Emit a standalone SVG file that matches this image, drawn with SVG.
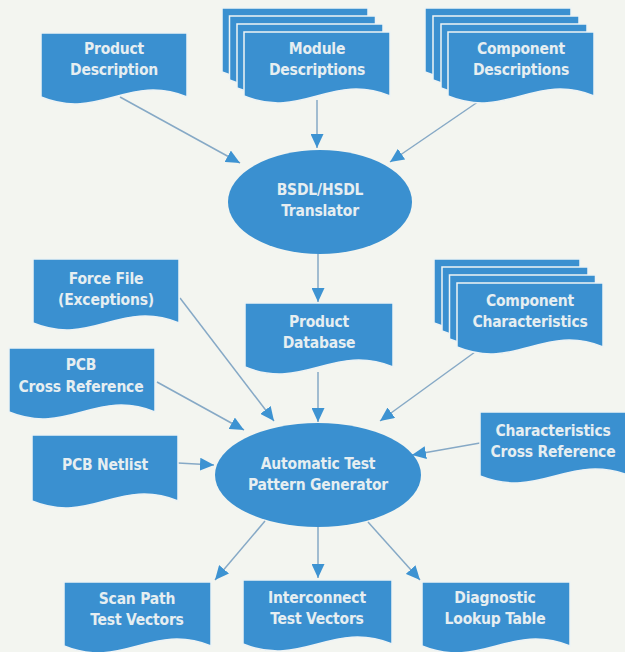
<svg xmlns="http://www.w3.org/2000/svg" width="625" height="652" viewBox="0 0 625 652">
<defs>
<style>
.doc{fill:#3a90d0;stroke:#eef3f4;stroke-width:1.5}
.ell{fill:#3a90d0}
.t{font-family:"DejaVu Sans Condensed","Liberation Sans Narrow",sans-serif;font-weight:bold;font-size:15.5px;letter-spacing:-0.2px;fill:#e6eef1;text-anchor:middle}
.c{stroke:#86a9c6;stroke-width:1.5;fill:none;marker-end:url(#ah)}
</style>
<marker id="ah" markerUnits="userSpaceOnUse" markerWidth="15" markerHeight="13" refX="14" refY="6.5" orient="auto">
<path d="M0,0 L14,6.5 L0,13 Z" fill="#3d93d2"/>
</marker>
</defs>
<rect width="625" height="652" fill="#f3f5f0"/>
<g id="connectors">
<line class="c" x1="120" y1="97" x2="240" y2="163"/>
<line class="c" x1="317" y1="100" x2="317" y2="148"/>
<line class="c" x1="488" y1="95" x2="390" y2="162"/>
<line class="c" x1="318" y1="253" x2="318" y2="302"/>
<line class="c" x1="180" y1="298" x2="274" y2="421"/>
<line class="c" x1="157" y1="382" x2="244" y2="430"/>
<line class="c" x1="318" y1="372" x2="318" y2="422"/>
<line class="c" x1="475" y1="352" x2="380" y2="421"/>
<line class="c" x1="178" y1="463" x2="214" y2="465"/>
<line class="c" x1="480" y1="443" x2="412" y2="455"/>
<line class="c" x1="265" y1="521" x2="215" y2="580"/>
<line class="c" x1="318" y1="527" x2="318" y2="578"/>
<line class="c" x1="368" y1="522" x2="420" y2="580"/>
</g>
<g id="product-description">
<path class="doc" d="M41,33 H187 V97 C128.6,73 99.4,121 41,97 Z"/>
<text class="t" x="114" y="54">Product</text>
<text class="t" x="114" y="75">Description</text>
</g>
<g id="module-descriptions">
<path class="doc" d="M222,8 H368 V72 C309.6,48 280.4,96 222,72 Z"/>
<path class="doc" d="M229.5,16 H375.5 V80 C317.1,56 287.9,104 229.5,80 Z"/>
<path class="doc" d="M237,24 H383 V88 C324.6,64 295.4,112 237,88 Z"/>
<path class="doc" d="M244,32 H390 V96 C331.6,72 302.4,120 244,96 Z"/>
<text class="t" x="317" y="54">Module</text>
<text class="t" x="317" y="75">Descriptions</text>
</g>
<g id="component-descriptions">
<path class="doc" d="M425,8 H571 V72 C512.6,48 483.4,96 425,72 Z"/>
<path class="doc" d="M433,16 H579 V80 C520.6,56 491.4,104 433,80 Z"/>
<path class="doc" d="M441,24 H587 V88 C528.6,64 499.4,112 441,88 Z"/>
<path class="doc" d="M448,32 H594 V96 C535.6,72 506.4,120 448,96 Z"/>
<text class="t" x="521" y="54">Component</text>
<text class="t" x="521" y="75">Descriptions</text>
</g>
<g id="bsdl-translator">
<ellipse class="ell" cx="320" cy="202" rx="92" ry="52"/>
<text class="t" x="320" y="195">BSDL/HSDL</text>
<text class="t" x="320" y="216">Translator</text>
</g>
<g id="force-file">
<path class="doc" d="M33,259 H179 V323 C120.6,299 91.4,347 33,323 Z"/>
<text class="t" x="106" y="284">Force File</text>
<text class="t" x="106" y="305">(Exceptions)</text>
</g>
<g id="product-database">
<path class="doc" d="M245,303 H393 V367 C333.8,343 304.2,391 245,367 Z"/>
<text class="t" x="319" y="327">Product</text>
<text class="t" x="319" y="348">Database</text>
</g>
<g id="component-characteristics">
<path class="doc" d="M434,259 H580 V323 C521.6,299 492.4,347 434,323 Z"/>
<path class="doc" d="M442,267 H588 V331 C529.6,307 500.4,355 442,331 Z"/>
<path class="doc" d="M449.5,275 H595.5 V339 C537.1,315 507.9,363 449.5,339 Z"/>
<path class="doc" d="M457,283 H603 V347 C544.6,323 515.4,371 457,347 Z"/>
<text class="t" x="530" y="306">Component</text>
<text class="t" x="530" y="327">Characteristics</text>
</g>
<g id="pcb-cross-reference">
<path class="doc" d="M9,348 H155 V412 C96.6,388 67.4,436 9,412 Z"/>
<text class="t" x="81" y="370">PCB</text>
<text class="t" x="81" y="392">Cross Reference</text>
</g>
<g id="characteristics-cross-reference">
<path class="doc" d="M480,412 H630 V476 C570,452 540,500 480,476 Z"/>
<text class="t" x="553" y="436">Characteristics</text>
<text class="t" x="553" y="457">Cross Reference</text>
</g>
<g id="pcb-netlist">
<path class="doc" d="M32,435 H178 V501 C119.6,477 90.4,525 32,501 Z"/>
<text class="t" x="105" y="470">PCB Netlist</text>
</g>
<g id="atpg">
<ellipse class="ell" cx="318" cy="475" rx="103" ry="52"/>
<text class="t" x="318" y="469">Automatic Test</text>
<text class="t" x="318" y="490">Pattern Generator</text>
</g>
<g id="scan-path-test-vectors">
<path class="doc" d="M64,582 H211 V646 C152.2,622 122.8,670 64,646 Z"/>
<text class="t" x="137" y="604">Scan Path</text>
<text class="t" x="137" y="625">Test Vectors</text>
</g>
<g id="interconnect-test-vectors">
<path class="doc" d="M243,580 H392 V644 C332.4,620 302.6,668 243,644 Z"/>
<text class="t" x="317" y="603">Interconnect</text>
<text class="t" x="317" y="624">Test Vectors</text>
</g>
<g id="diagnostic-lookup-table">
<path class="doc" d="M422,582 H570 V646 C510.8,622 481.2,670 422,646 Z"/>
<text class="t" x="495" y="603">Diagnostic</text>
<text class="t" x="495" y="624">Lookup Table</text>
</g>
</svg>
